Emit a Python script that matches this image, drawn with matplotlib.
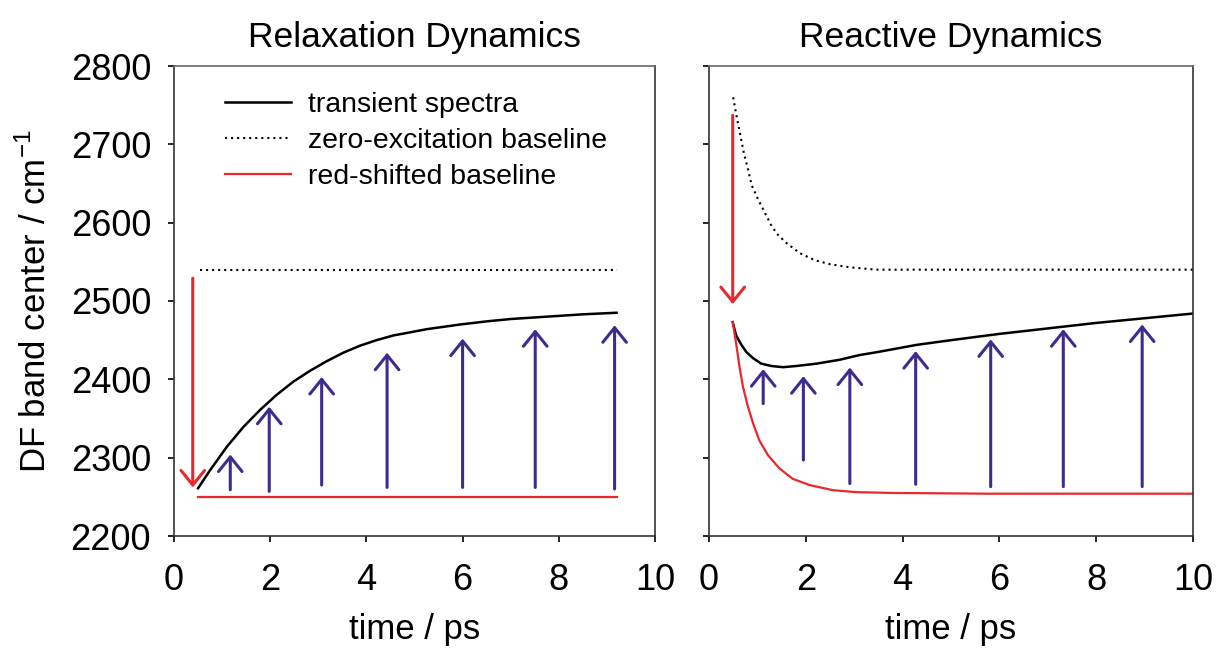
import matplotlib.pyplot as plt

plt.rcParams['font.family'] = ['Liberation Sans', 'DejaVu Sans']

BLUE = '#3F2B8E'
RED = '#E8282B'

# relaxation dynamics (left)
relax_t = [0.5, 0.75, 1.10, 1.44, 1.79, 2.13, 2.48, 2.83, 3.17, 3.52, 3.87,
           4.21, 4.56, 4.91, 5.25, 5.60, 5.95, 6.5, 7.0, 7.5, 8.0, 8.5, 9.2]
relax_center = [2261, 2284, 2314, 2339, 2361, 2380, 2397, 2411, 2423, 2434, 2443,
                2450, 2456, 2460, 2464, 2467, 2470, 2474, 2477, 2479, 2481, 2483, 2485]
relax_base_t = [0.55, 9.2]
relax_zero = [2540, 2540]
relax_red_t = [0.5, 9.2]
relax_red = [2250, 2250]
relax_arrow_t = [1.17, 1.98, 3.07, 4.43, 6.0, 7.51, 9.16]
relax_arrow_lo = [2259, 2257, 2265, 2262, 2262, 2262, 2260]
relax_arrow_hi = [2304, 2365, 2403, 2434, 2452, 2464, 2469]
relax_drop = [0.39, 2529, 2262]

# reactive dynamics (right)
react_t = [0.49, 0.56, 0.67, 0.77, 0.91, 1.08, 1.29, 1.53, 1.80, 2.22, 2.70,
           3.11, 3.5, 4.29, 5.0, 6.0, 7.0, 8.0, 9.0, 10.0]
react_center = [2473, 2456, 2444, 2435, 2427, 2420, 2417, 2415.5, 2417, 2420, 2425,
                2431, 2435, 2444, 2450, 2458, 2465, 2472, 2478, 2484]
react_zero_t = [0.50, 0.56, 0.64, 0.72, 0.81, 0.88, 1.02, 1.16, 1.30, 1.43, 1.60,
                1.88, 2.19, 2.50, 2.91, 3.46, 5.0, 10.0]
react_zero = [2760, 2739, 2714, 2689, 2667, 2648, 2629, 2612, 2595, 2584, 2574,
              2561, 2552, 2547, 2543, 2540, 2540, 2540]
react_red_t = [0.49, 0.56, 0.63, 0.70, 0.80, 0.91, 1.04, 1.22, 1.46, 1.73, 2.08,
               2.56, 3.04, 3.74, 5.8, 10.0]
react_red = [2473, 2446, 2416, 2391, 2366, 2344, 2322, 2303, 2286, 2273, 2265,
             2258.5, 2256, 2255, 2254, 2254]
react_arrow_t = [1.12, 1.95, 2.91, 4.27, 5.82, 7.32, 8.95]
react_arrow_lo = [2369, 2297, 2267, 2266, 2263, 2263, 2263]
react_arrow_hi = [2413, 2404, 2415, 2436, 2451, 2464, 2470]
react_drop = [0.49, 2737, 2496]

labels = ['transient spectra', 'zero-excitation baseline', 'red-shifted baseline']


def arrow(ax, x, lo, hi, color):
    ax.annotate('', xy=(x, hi), xytext=(x, lo),
                arrowprops=dict(arrowstyle='->,head_length=1.05,head_width=0.85',
                                color=color, lw=2.2, mutation_scale=10,
                                shrinkA=0, shrinkB=0))


def style(ax, title):
    ax.set_xlim(0, 10)
    ax.set_ylim(2200, 2800)
    ax.set_xticks([0, 2, 4, 6, 8, 10])
    ax.set_yticks([2200, 2300, 2400, 2500, 2600, 2700, 2800])
    ax.tick_params(direction='out', length=4.5, width=1.2, labelsize=26)
    ax.tick_params(axis='x', pad=15)
    ax.tick_params(axis='y', pad=12)
    for s in ['left', 'bottom', 'right']:
        ax.spines[s].set_color('#333333')
        ax.spines[s].set_linewidth(1.2)
    ax.spines['top'].set_color('#666666')
    ax.spines['top'].set_linewidth(1.2)
    ax.set_title(title, fontsize=25.5, pad=14)
    ax.set_xlabel('time / ps', fontsize=25, labelpad=11)


fig = plt.figure(figsize=(12.16, 6.48), dpi=100)
ax1 = fig.add_axes([174 / 1216, 1 - 536 / 648, 481 / 1216, 470 / 648])
ax2 = fig.add_axes([709 / 1216, 1 - 536 / 648, 484 / 1216, 470 / 648], sharey=ax1)

dots = (0, (1, 1.9))

l1, = ax1.plot(relax_t, relax_center, color='black', lw=1.8)
l2, = ax1.plot(relax_base_t, relax_zero, color='black', lw=1.5, linestyle=dots)
l3, = ax1.plot(relax_red_t, relax_red, color=RED, lw=1.6)
for x, lo, hi in zip(relax_arrow_t, relax_arrow_lo, relax_arrow_hi):
    arrow(ax1, x, lo, hi, BLUE)
arrow(ax1, relax_drop[0], relax_drop[1], relax_drop[2], RED)

ax2.plot(react_t, react_center, color='black', lw=1.8)
ax2.plot(react_zero_t, react_zero, color='black', lw=1.5, linestyle=dots)
ax2.plot(react_red_t, react_red, color=RED, lw=1.6)
for x, lo, hi in zip(react_arrow_t, react_arrow_lo, react_arrow_hi):
    arrow(ax2, x, lo, hi, BLUE)
arrow(ax2, react_drop[0], react_drop[1], react_drop[2], RED)

style(ax1, 'Relaxation Dynamics')
style(ax2, 'Reactive Dynamics')
ax2.tick_params(labelleft=False)
ax1.set_ylabel(r'DF band center / cm$^{\mathregular{-1}}$', fontsize=25, labelpad=13)

ax1.legend([l1, l2, l3], labels, loc='upper left', bbox_to_anchor=(0.105, 0.944),
           frameon=False, fontsize=20.5, handlelength=2.35, handletextpad=0.6,
           labelspacing=0.35, borderpad=0, borderaxespad=0)

fig.savefig('out.png', dpi=100)
